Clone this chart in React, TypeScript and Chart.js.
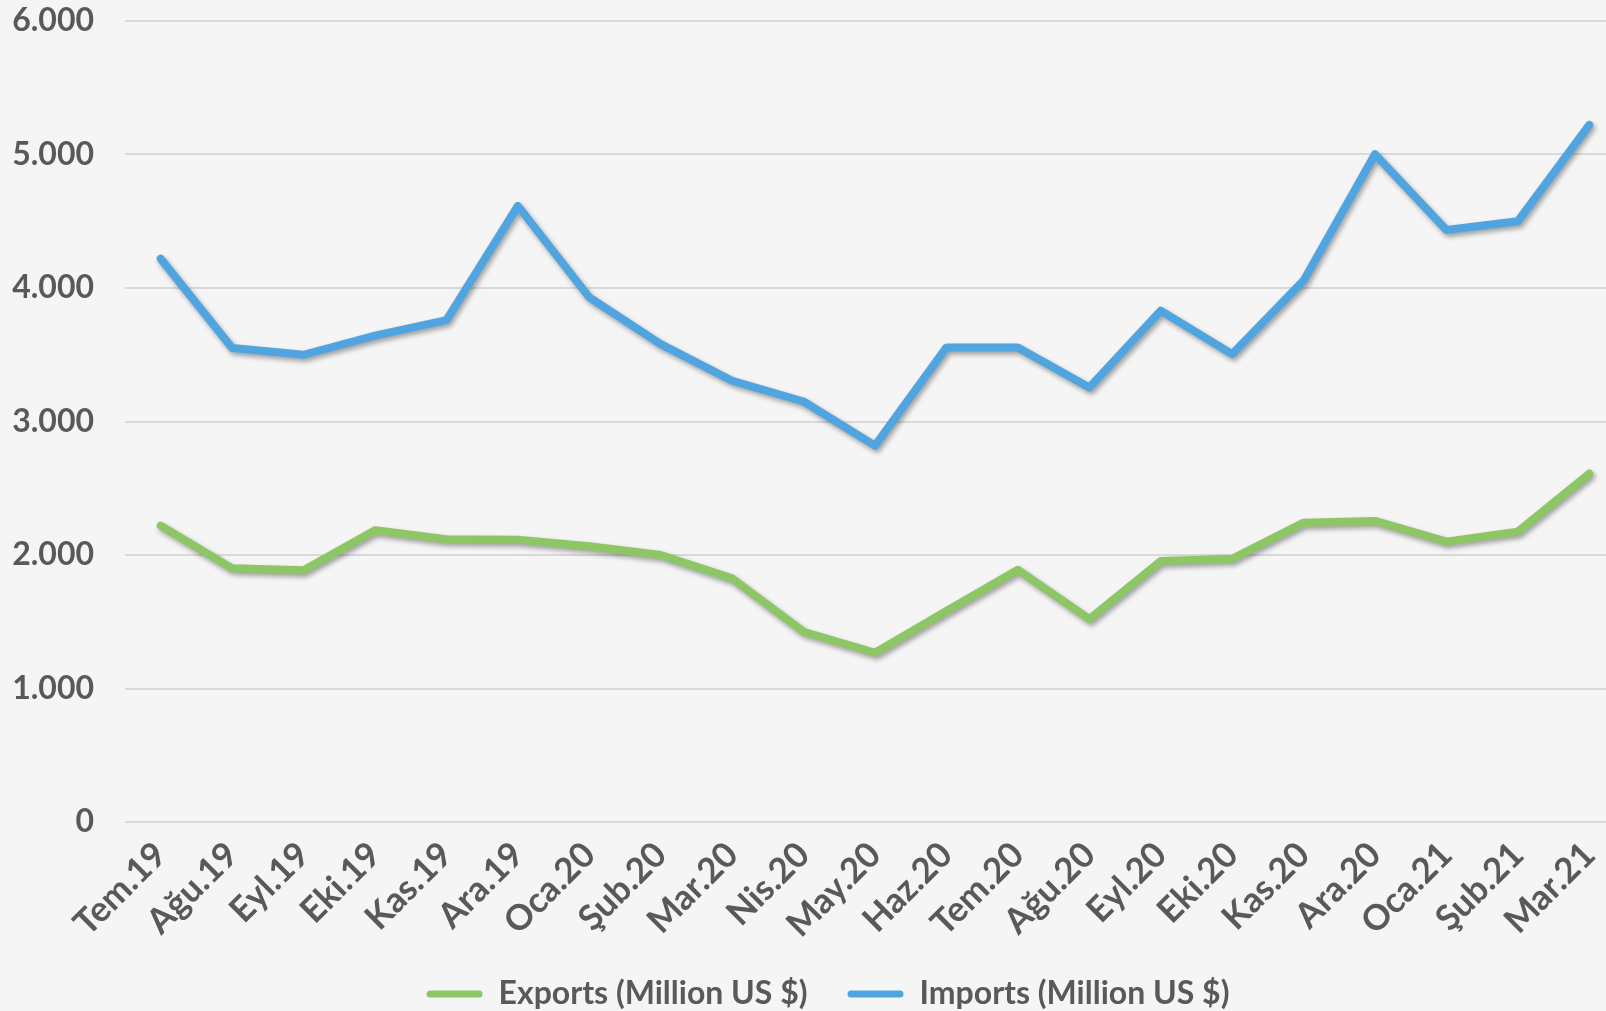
import React, { useEffect, useRef } from "react";
import { Chart, registerables } from "chart.js";

Chart.register(...registerables);

// Monthly foreign trade, July 2019 – March 2021
const months = [
  "Tem.19", "Ağu.19", "Eyl.19", "Eki.19", "Kas.19", "Ara.19",
  "Oca.20", "Şub.20", "Mar.20", "Nis.20", "May.20", "Haz.20",
  "Tem.20", "Ağu.20", "Eyl.20", "Eki.20", "Kas.20", "Ara.20",
  "Oca.21", "Şub.21", "Mar.21",
];

const exportsMillionUsd = [
  2220, 1900, 1885, 2185, 2118, 2115,
  2065, 2000, 1825, 1425, 1268, 1580,
  1890, 1520, 1955, 1972, 2242, 2255,
  2100, 2175, 2610,
];

const importsMillionUsd = [
  4220, 3550, 3500, 3643, 3760, 4615,
  3930, 3580, 3305, 3150, 2820, 3555,
  3555, 3255, 3830, 3505, 4055, 5002,
  4435, 4500, 5222,
];

const yTicks = [0, 1000, 2000, 3000, 4000, 5000, 6000];

const exportsLabel = "Exports (Million US $)";
const importsLabel = "Imports (Million US $)";

const GREEN = "#8CC665";
const BLUE = "#50A5E1";
const TEXT = "#595959";
const GRID = "#D9D9D9";
const BG = "#F5F5F5";

const CANVAS_W = 1656;
const CANVAS_H = 1020;

// soft drop shadow under the series lines
const lineShadow = {
  id: "lineShadow",
  beforeDatasetsDraw(chart: any) {
    const ctx = chart.ctx;
    ctx.save();
    ctx.shadowColor = "rgba(0,0,0,0.35)";
    ctx.shadowBlur = 5;
    ctx.shadowOffsetX = 2;
    ctx.shadowOffsetY = 3;
  },
  afterDatasetsDraw(chart: any) {
    chart.ctx.restore();
  },
};

const formatThousands = (v: number) =>
  v.toString().replace(/\B(?=(\d{3})+(?!\d))/g, ".");

export default function App() {
  const canvasRef = useRef<HTMLCanvasElement | null>(null);

  useEffect(() => {
    const canvas = canvasRef.current;
    if (!canvas) return;
    const chart = new Chart(canvas, {
      type: "line",
      data: {
        labels: months,
        datasets: [
          {
            label: exportsLabel,
            data: exportsMillionUsd,
            borderColor: GREEN,
            backgroundColor: GREEN,
            borderWidth: 8,
            pointRadius: 0,
            pointHoverRadius: 0,
            tension: 0,
            borderCapStyle: "round",
            borderJoinStyle: "round",
          },
          {
            label: importsLabel,
            data: importsMillionUsd,
            borderColor: BLUE,
            backgroundColor: BLUE,
            borderWidth: 8,
            pointRadius: 0,
            pointHoverRadius: 0,
            tension: 0,
            borderCapStyle: "round",
            borderJoinStyle: "round",
          },
        ],
      },
      options: {
        responsive: false,
        animation: false,
        events: [],
        layout: { padding: { left: 31, right: 31, top: 21, bottom: 0 } },
        scales: {
          x: {
            type: "category",
            offset: true,
            grid: { display: false, drawTicks: false },
            border: { display: false },
            ticks: {
              autoSkip: false,
              minRotation: 45,
              maxRotation: 45,
              padding: 12,
              color: TEXT,
              font: { family: "Lato", weight: "bold", size: 35 },
            },
            afterFit(scale: any) {
              scale.height = 116;
            },
          },
          y: {
            min: 0,
            max: 6000,
            afterBuildTicks(scale: any) {
              scale.ticks = yTicks.map((value) => ({ value }));
            },
            grid: { color: GRID, lineWidth: 2, drawTicks: false },
            border: { display: false },
            ticks: {
              padding: 31,
              color: TEXT,
              font: { family: "Lato", weight: "bold", size: 32 },
              callback: (v: any) => formatThousands(Number(v)),
            },
            afterFit(scale: any) {
              scale.width = 94;
              scale.paddingTop = 0;
              scale.paddingBottom = 0;
              // tick labels may extend left of the axis box into the page margin
              scale._computeLabelArea = () => undefined;
            },
          },
        },
        plugins: {
          tooltip: { enabled: false },
          legend: {
            position: "bottom",
            labels: {
              boxWidth: 56,
              boxHeight: 7,
              padding: 40,
              color: TEXT,
              font: { family: "Lato", weight: "bold", size: 32 },
              generateLabels(chart: any) {
                const items = Chart.defaults.plugins.legend.labels.generateLabels(chart);
                return items.map((item: any) => ({
                  ...item,
                  lineWidth: 0,
                  borderRadius: 3.5,
                }));
              },
            },
          },
        },
      },
      plugins: [lineShadow],
    });
    return () => chart.destroy();
  }, []);

  return (
    <div
      style={{
        position: "fixed",
        left: 0,
        top: 0,
        width: 1606,
        height: 1011,
        overflow: "hidden",
        background: BG,
      }}
    >
      <canvas
        ref={canvasRef}
        width={CANVAS_W}
        height={CANVAS_H}
        style={{ display: "block", width: CANVAS_W, height: CANVAS_H }}
      />
    </div>
  );
}
